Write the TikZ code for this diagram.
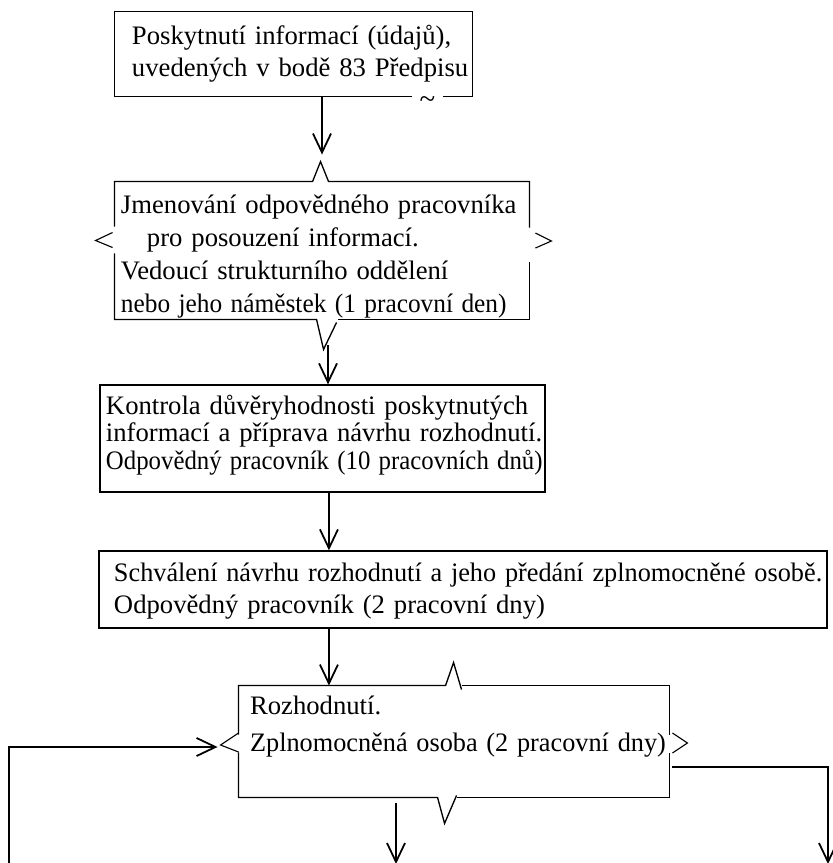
\documentclass[tikz,border=0pt]{standalone}
\usepackage{fontspec}
\setmainfont{Liberation Serif}
\usepackage{tikz}
\usetikzlibrary{arrows.meta,calc}

\begin{document}
\begin{tikzpicture}[
  x=0.45pt, y=-0.45pt,
  box/.style={rectangle, inner sep=0pt, align=left},
  framed/.style={box, draw, line width=0.6pt},
  pad/.style={execute at begin node={\leftskip=#1\relax\rightskip=-40pt plus 1fil\relax}},
  edge/.style={line width=0.6pt},
  notch/.style={line width=0.5pt},
  arr/.style={-{Straight Barb[length=8.5pt, width=8.1pt]}, line width=0.8pt}
]
\useasboundingbox (0,0) rectangle (833,863);

% Steps of the procedure
\node[box, pad=7.65pt, text width=160.65pt, text height=14.4pt, text depth=23.4pt,
  font=\fontsize{12}{14.4}\selectfont] (info) at (293.5,54)
  {Poskytnutí informací (údajů),\\ uvedených v bodě 83 Předpisu};
\node[box, pad=2.7pt, text width=186.3pt, text height=13.95pt, text depth=47.7pt,
  font=\fontsize{12}{14.85}\selectfont] (appoint) at (322,250.5)
  {Jmenování odpovědného pracovníka\\ \hspace*{11.7pt}pro posouzení informací.\\
   Vedoucí strukturního oddělení\\ \scalebox{0.95}[1]{nebo jeho náměstek (1 pracovní den)}};
\node[framed, pad=2.7pt, text width=200.25pt, text height=13.05pt, text depth=35.1pt,
  font=\fontsize{12}{12.4}\selectfont] (check) at (322.5,438.5)
  {Kontrola důvěryhodnosti poskytnutých\\ informací a příprava návrhu rozhodnutí.\\
   \scalebox{0.93}[1]{Odpovědný pracovník (10 pracovních dnů)}};
\node[framed, pad=6.75pt, text width=327.6pt, text height=13.5pt, text depth=21.15pt,
  font=\fontsize{12}{14.4}\selectfont] (approve) at (463,589.5)
  {\scalebox{0.985}[1]{Schválení návrhu rozhodnutí a jeho předání zplnomocněné osobě.}\\
   Odpovědný pracovník (2 pracovní dny)};
\node[box, pad=5pt, text width=193.5pt, text height=12.6pt, text depth=37.35pt,
  font=\fontsize{12}{16.65}\selectfont] (decide) at (454,741.5)
  {Rozhodnutí.\\ \scalebox{0.985}[1]{Zplnomocněná osoba (2 pracovní dny)}};

% Outline of the first step, gap in the bottom edge
\draw[edge] ($(info.south east)+(-60,0)$) -- (info.south west) -- (info.north west)
  -- (info.north east) -- (info.south east) -- ++(-29,0);
\node[inner sep=0pt, font=\fontsize{13}{14}\selectfont] (tilde) at ($(info.south east)+(-45,6)$) {\textasciitilde};

% Outline of the second step
\draw[edge] ($(appoint.north west)+(0,45)$) -- (appoint.north west) -- ++(198,0)
  -- ++(8,-20) -- ++(8,20) -- (appoint.north east) -- ++(0,46);
\draw[edge] ($(appoint.south west)+(0,-66)$) -- (appoint.south west) -- ++(202,0)
  -- ++(7,30) -- ++(13,-27);
\draw[edge] ($(appoint.south east)+(0,-57)$) -- (appoint.south east) -- ++(-191,0);
\draw[notch] ($(appoint.west)+(-2,-18)$) -- ++(-17,8) -- ++(17,7);
\draw[notch] ($(appoint.east)+(6,-17.5)$) -- ++(16,8) -- ++(-16,7);

% Outline of the decision
\draw[edge] ($(decide.north west)+(0,49)$) -- (decide.north west) -- ++(207,0)
  -- ++(8,-23) -- ++(8,27);
\draw[edge] ($(decide.north west)+(223,0)$) -- (decide.north east) -- ++(0,49);
\draw[edge] ($(decide.south west)+(0,-45)$) -- (decide.south west) -- ++(199,0)
  -- ++(7,26) -- ++(12,-28);
\draw[edge] ($(decide.south east)+(0,-44)$) -- (decide.south east) -- ++(-212,0);
\draw[notch] ($(decide.west)+(0,-8.5)$) -- ++(-18,12) -- ++(18,7);
\draw[notch] ($(decide.east)+(3,-8.5)$) -- ++(15,10) -- ++(-15,10);

% Arrows between the steps
\coordinate (v2) at ($(appoint.south)+(6,26)$);
\coordinate (v3) at ([xshift=2.9pt]check.south);
\draw[arr] (info.south -| appoint.north) -- ($(appoint.north)+(0,-27)$);
\draw[arr] (v2) -- (v2 |- check.north);
\draw[arr] (v3) -- (v3 |- approve.north);
\draw[arr] (v3 |- approve.south) -- (v3 |- decide.north);

% Arrows leaving and entering the decision
\coordinate (backin) at (9,866);
\coordinate (outdown) at (396,864);
\coordinate (outright) at (828,864);
\draw[arr] (backin) |- ($(decide.west)+(-21,5.5)$);
\draw[arr] ($(decide.south)+(-58,6)$) -- (outdown);
\draw[arr] ($(decide.east)+(3,25.5)$) -| (outright);

\end{tikzpicture}
\end{document}
